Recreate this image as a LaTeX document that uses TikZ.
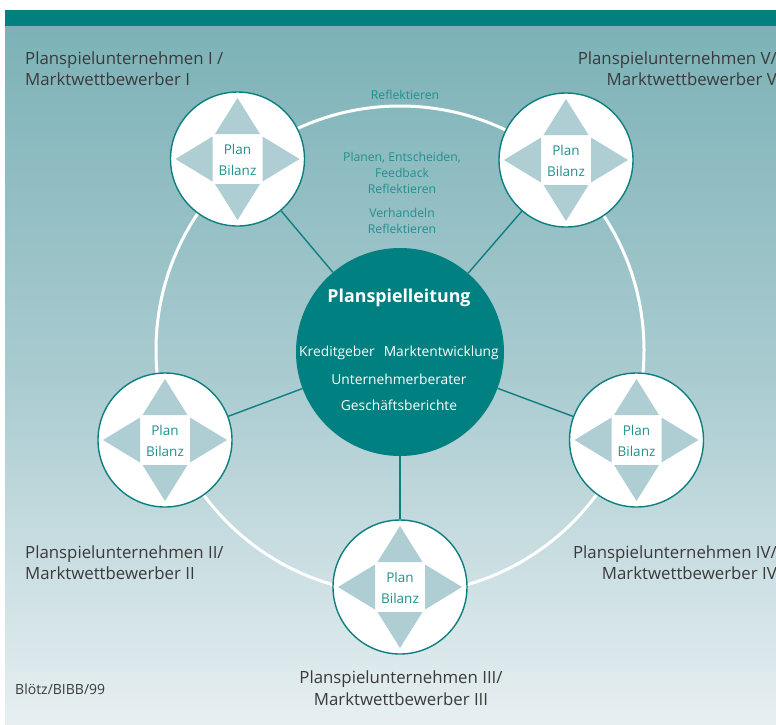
\documentclass[tikz,border=0pt]{standalone}
\usepackage{fontspec}
\setmainfont{Open Sans}
\definecolor{barteal}{HTML}{00807F}
\definecolor{hubteal}{HTML}{008080}
\definecolor{lineteal}{HTML}{0E7F80}
\definecolor{txtteal}{HTML}{21908F}
\definecolor{bgtop}{HTML}{7CB2B7}
\definecolor{bgmid}{HTML}{A9CBD0}
\definecolor{bgbot}{HTML}{E7EFF1}
\definecolor{trifill}{HTML}{AECED4}
\definecolor{labelgrey}{HTML}{3A3A3A}
\tikzset{
  firm/.style={circle, fill=white, draw=lineteal, line width=1.4pt, minimum size=134pt, inner sep=0pt},
  hub/.style={circle, fill=hubteal, minimum size=208pt, inner sep=0pt},
  spoke/.style={draw=lineteal, line width=1.4pt},
  ring/.style={draw=white, line width=3pt},
  tri/.style={fill=trifill},
  plantext/.style={text=txtteal, align=center, font=\fontsize{13.5}{21.5}\selectfont, inner sep=0pt},
  midtext/.style={text=txtteal, align=center, font=\fontsize{12.2}{16}\selectfont, inner sep=0pt},
  hubtext/.style={text=white, font=\fontsize{13.8}{16}\selectfont, inner sep=0pt},
  firmlabel/.style={text=labelgrey, font=\fontsize{16.8}{21.5}\selectfont, inner sep=0pt},
}
\begin{document}
\begin{tikzpicture}[x=1pt,y=-1pt]
\useasboundingbox (0,0) rectangle (776,724);
% background and title bar
\shade[top color=bgtop, bottom color=bgbot, middle color=bgmid] (5,26) rectangle (776,724);
\fill[barteal] (5,10) rectangle (776,26);
% white ring joining the five companies
\draw[ring] (400,350) circle[radius=244pt];
% central management
\node[hub] (hub) at (400,352) {};
% the five companies
\node[firm] (f1) at (237.5,159) {};
\node[firm] (f5) at (566,160) {};
\node[firm] (f2) at (165,440) {};
\node[firm] (f4) at (636.5,440) {};
\node[firm] (f3) at (400,587) {};
% spokes
\foreach \n in {f1,f2,f3,f4,f5} \draw[spoke] (hub) -- (\n);
% four-way arrows with Plan / Bilanz
\foreach \n in {f1,f2,f3,f4,f5} {
  \begin{scope}[shift={(\n.center)}]
    \fill[tri] (-22.5,-25) -- (22.5,-25) -- (0,-61) -- cycle;
    \fill[tri] (-22.5,25) -- (22.5,25) -- (0,61) -- cycle;
    \fill[tri] (-25,-22.5) -- (-25,22.5) -- (-62,0) -- cycle;
    \fill[tri] (25,-22.5) -- (25,22.5) -- (62,0) -- cycle;
  \end{scope}
  \node[plantext] (t\n) at ([yshift=-1]\n.center) {Plan\\Bilanz};
}
% texts of the central management
\node[text=white, font=\fontsize{17.8}{20}\selectfont\bfseries, inner sep=0pt] (title) at (399,298) {Planspielleitung};
\node[hubtext] (k1) at (399,352.5) {Kreditgeber\hspace{9pt}Marktentwicklung};
\node[hubtext] (k2) at (399,379) {Unternehmerberater};
\node[hubtext] (k3) at (399,405.5) {Geschäftsberichte};
% activity texts
\node[midtext] (r0) at (405,95) {Reflektieren};
\node[midtext] (r1) at (402,173) {Planen, Entscheiden,\\Feedback\\Reflektieren};
\node[midtext] (r2) at (402,221) {Verhandeln\\Reflektieren};
% company labels
\node[firmlabel, anchor=west, align=left] (l1) at (25,68.5) {Planspielunternehmen I /\\Marktwettbewerber I};
\node[firmlabel, anchor=east, align=right] (l5) at (777,68.5) {Planspielunternehmen V/\\Marktwettbewerber V};
\node[firmlabel, anchor=west, align=left] (l2) at (25,562.5) {Planspielunternehmen II/\\Marktwettbewerber II};
\node[firmlabel, anchor=east, align=right] (l4) at (777,562.5) {Planspielunternehmen IV/\\Marktwettbewerber IV};
\node[firmlabel, align=center] (l3) at (401,688) {Planspielunternehmen III/\\Marktwettbewerber III};
\node[text=labelgrey, font=\fontsize{14}{16}\selectfont, inner sep=0pt, anchor=west] (src) at (15,689) {Blötz/BIBB/99};
\end{tikzpicture}
\end{document}
